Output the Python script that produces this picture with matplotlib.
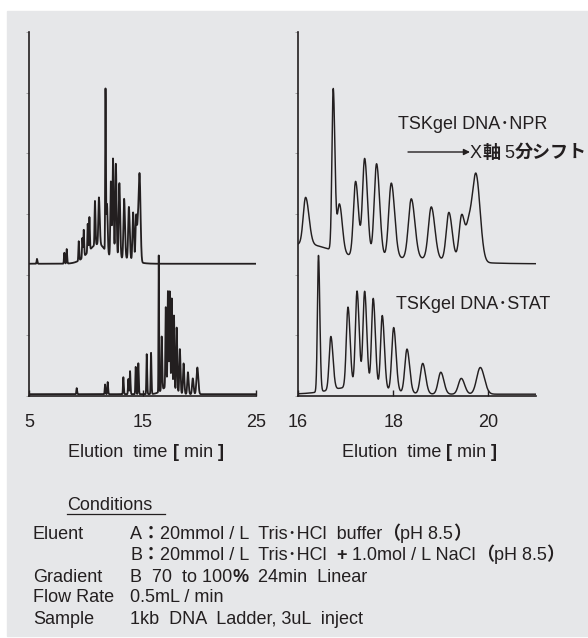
import numpy as np
import matplotlib
matplotlib.use('Agg')
import matplotlib.pyplot as plt
from matplotlib.patches import Rectangle
from matplotlib.lines import Line2D
from matplotlib.font_manager import FontProperties

FAM = ['Liberation Sans', 'Noto Sans CJK JP']
plt.rcParams['font.family'] = FAM

# TSKgel DNA-NPR peaks (as eluted; right panel shows them shifted +5 min)
npr_time = [5.70, 8.11, 8.32, 9.38, 9.70, 9.82, 10.17, 10.32, 10.81,
            11.16, 11.74, 11.87, 12.21, 12.40, 12.65, 12.96, 13.38, 13.80,
            14.17, 14.44, 14.59, 14.74, 11.10, 13.30]
npr_height = [0.08, 0.18, 0.24, 0.32, 0.33, 0.44, 0.47, 0.55, 0.73,
              0.77, 2.66, 0.80, 1.24, 1.63, 1.56, 1.24, 0.98, 0.86,
              0.79, 0.76, 0.52, 1.43, 0.32, 0.09]
npr_wl = [0.03, 0.03, 0.03, 0.03, 0.03, 0.03, 0.03, 0.03, 0.035,
          0.05, 0.027, 0.045, 0.045, 0.045, 0.05, 0.055, 0.06, 0.06,
          0.055, 0.055, 0.055, 0.075, 0.9, 0.9]
npr_wr = [0.04, 0.04, 0.04, 0.04, 0.04, 0.04, 0.04, 0.04, 0.045,
          0.07, 0.035, 0.06, 0.06, 0.06, 0.065, 0.07, 0.075, 0.075,
          0.07, 0.065, 0.065, 0.085, 0.65, 0.9]
npr_base = 2.18
npr_shift = 5.0

# TSKgel DNA-STAT peaks
stat_time = [9.20, 11.70, 11.93, 13.31, 13.75, 13.90, 14.40, 14.63, 15.37,
             15.75, 16.43, 16.69, 17.05, 17.24, 17.40, 17.58, 17.77, 18.01,
             18.29, 18.62, 19.00, 19.43, 19.83, 17.20]
stat_height = [0.10, 0.16, 0.20, 0.28, 0.25, 0.38, 0.45, 0.51, 0.66,
               0.68, 2.25, 0.88, 1.32, 1.58, 1.58, 1.48, 1.22, 1.05,
               0.72, 0.50, 0.36, 0.26, 0.44, 0.12]
stat_wl = [0.03, 0.03, 0.03, 0.03, 0.03, 0.03, 0.03, 0.03, 0.03,
           0.03, 0.022, 0.035, 0.035, 0.035, 0.035, 0.035, 0.035, 0.04,
           0.045, 0.05, 0.055, 0.06, 0.075, 0.5]
stat_wr = [0.04, 0.04, 0.04, 0.04, 0.04, 0.04, 0.04, 0.04, 0.04,
           0.04, 0.028, 0.045, 0.045, 0.045, 0.045, 0.045, 0.045, 0.05,
           0.055, 0.06, 0.065, 0.07, 0.085, 0.6]
stat_base = 0.03

INK = '#231f20'
BG = '#e6e7e9'
W, H = 588, 638
FS = 13


def trace(t, times, heights, wl, wr, base):
    y = np.full_like(t, base)
    for c, h, sl, sr in zip(times, heights, wl, wr):
        s = np.where(t < c, sl, sr)
        y += h * np.exp(-0.5 * ((t - c) / s) ** 2)
    return y


fig = plt.figure(figsize=(W / 100, H / 100), dpi=100)
fig.patch.set_facecolor('white')
fig.patches.append(Rectangle((7 / W, 1 - 636 / H), 1 - 7 / W, 625 / H,
                             transform=fig.transFigure, color=BG, zorder=-10))
R = fig.canvas.get_renderer()


def px(x, y):
    return x / W, 1 - y / H


def adv(s, weight, size):
    fp = FontProperties(family=FAM, weight=weight, size=size)
    w1 = R.get_text_width_height_descent('|' + s + '|', fp, False)[0]
    w0 = R.get_text_width_height_descent('||', fp, False)[0]
    return w1 - w0


def runs(x, y, parts, size=FS, center=False):
    # x, y in pixels from top-left, y is the baseline
    widths = [adv(s, w, size) for s, w in parts]
    if center:
        x -= sum(widths) / 2
    for (s, w), wd in zip(parts, widths):
        fig.text(*px(x, y), s, fontsize=size, fontweight=w, family=FAM,
                 va='baseline', ha='left', color=INK)
        x += wd


ax1 = fig.add_axes([29 / W, 1 - 396 / H, 227 / W, 364 / H])
ax2 = fig.add_axes([298 / W, 1 - 396 / H, 238 / W, 364 / H])

t1 = np.arange(5, 25.0005, 0.002)
ax1.plot(t1, trace(t1, npr_time, npr_height, npr_wl, npr_wr, npr_base),
         color=INK, lw=1.3)
ax1.plot(t1, trace(t1, stat_time, stat_height, stat_wl, stat_wr, stat_base),
         color=INK, lw=1.3)

t2 = np.arange(16, 21.0005, 0.001)
ax2.plot(t2, trace(t2 - npr_shift, npr_time, npr_height, npr_wl, npr_wr,
                   npr_base), color=INK, lw=1.05)
ax2.plot(t2, trace(t2, stat_time, stat_height, stat_wl, stat_wr, stat_base),
         color=INK, lw=1.05)

ax1.set_xlim(5, 25)
ax1.set_xticks([5, 15, 25])
ax2.set_xlim(16, 21)
ax2.set_xticks([16, 18, 20])

for ax in (ax1, ax2):
    ax.set_facecolor('none')
    ax.set_ylim(0, 6)
    ax.set_yticks(range(7))
    ax.set_yticklabels([])
    for side in ('top', 'right'):
        ax.spines[side].set_visible(False)
    for side in ('left', 'bottom'):
        ax.spines[side].set_linewidth(1.2)
        ax.spines[side].set_color(INK)
    ax.tick_params(axis='y', direction='out', length=2.5, width=0.6,
                   color='#999999')
    ax.tick_params(axis='x', direction='in', length=4.5, width=1.0,
                   color=INK, labelcolor=INK, labelsize=FS, pad=13)

# axis titles
for cx in (146, 419.5):
    runs(cx, 457, [('Elution  time ', 'normal'), ('[', 'bold'),
                   (' min ', 'normal'), (']', 'bold')], center=True)

# column labels
fig.text(*px(398, 129), 'TSKgel DNA･NPR', fontsize=FS, color=INK,
         va='baseline', ha='left')
fig.text(*px(396, 309), 'TSKgel DNA･STAT', fontsize=FS, color=INK,
         va='baseline', ha='left')
ax2.annotate('', xy=px(470, 152), xytext=px(408, 152),
             xycoords='figure fraction', textcoords='figure fraction',
             arrowprops=dict(arrowstyle='-|>', color=INK, lw=1.0,
                             mutation_scale=9, shrinkA=0, shrinkB=0))
runs(470, 158, [('X', 'normal'), ('軸', 'bold'), (' 5', 'normal'),
                ('分シフト', 'bold')])

# conditions block
fig.text(*px(67, 510), 'Conditions', fontsize=FS, color=INK,
         va='baseline', ha='left')
fig.add_artist(Line2D([67 / W, 165 / W], [1 - 513.5 / H, 1 - 513.5 / H],
                      color=INK, lw=0.9, transform=fig.transFigure))

rows = [
    ('Eluent', 539, [('A', 'normal'), ('：', 'bold'),
                     ('20mmol / L  Tris･HCl  buffer', 'normal'),
                     ('（', 'bold'), ('pH 8.5', 'normal'), ('）', 'bold')]),
    ('', 560, [('B', 'normal'), ('：', 'bold'),
               ('20mmol / L  Tris･HCl ', 'normal'), (' +', 'bold'),
               (' 1.0mol / L NaCl', 'normal'), ('（', 'bold'),
               ('pH 8.5', 'normal'), ('）', 'bold')]),
    ('Gradient', 581.5, [('B  70  to 100', 'normal'), ('%', 'bold'),
                         ('  24min  Linear', 'normal')]),
    ('Flow Rate', 602.5, [('0.5mL / min', 'normal')]),
    ('Sample', 623.5, [('1kb  DNA  Ladder, 3uL  inject', 'normal')]),
]
for label, yb, parts in rows:
    if label:
        fig.text(*px(33, yb), label, fontsize=FS, color=INK,
                 va='baseline', ha='left')
    runs(130, yb, parts)

fig.savefig('out.png', dpi=100, facecolor=fig.get_facecolor())
